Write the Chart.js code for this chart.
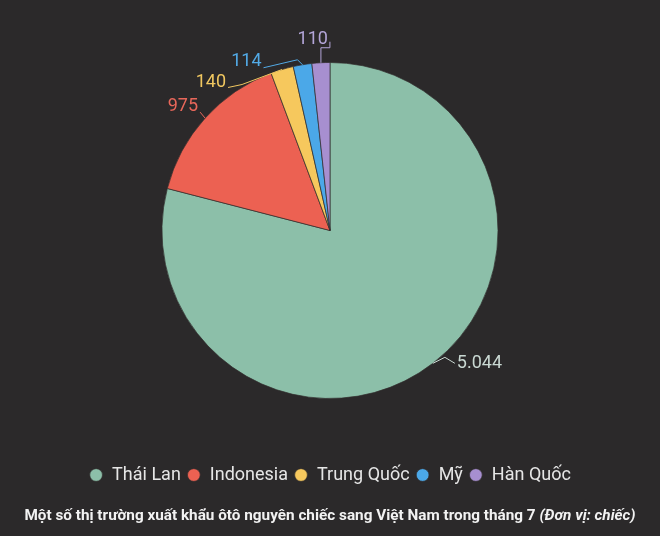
<!DOCTYPE html>
<html>
<head>
    <meta charset="utf-8">
    <title></title>
    <script src="https://cdn.jsdelivr.net/npm/chart.js@4.4.1/dist/chart.umd.min.js"></script>
    <style>
        html, body { margin: 0; padding: 0; background: #2b292a; }
        #holder { width: 660px; height: 536px; position: relative; }
    </style>
</head>

<body>
    <div id="holder">
        <canvas id="chart-area"></canvas>
    </div>

    <script>
		// so lieu thang 7 (don vi: chiec)
		var markets = ['Thái Lan', 'Indonesia', 'Trung Quốc', 'Mỹ', 'Hàn Quốc'];
		var cars = [5044, 975, 140, 114, 110];
		var valueLabels = ['5.044', '975', '140', '114', '110'];

		var sliceColors = ['#8cbfa9', '#ec6152', '#f6c85d', '#4ba8e8', '#a78fd0'];
		var labelColors = ['#c9d8d2', '#e8675a', '#f1c760', '#52aae6', '#b3a5d8'];

		var caption = 'Một số thị trường xuất khẩu ôtô nguyên chiếc sang Việt Nam trong tháng 7 ';
		var captionUnit = '(Đơn vị: chiếc)';

		// leader lines, offsets from the point on the arc
		var leaders = [
			{ path: [[12, -6], [22, 0]], text: [24, 0], align: 'left' },
			{ path: [[-5, -6]], text: [-7, -12], align: 'right' },
			{ path: [[-40, 15], [-54, 18]], text: [-56, 13], align: 'right' },
			{ path: [[-5, -5], [-39, 3]], text: [-41, -3], align: 'right' },
			{ path: [[0, -15], [9, -15], [9, -21]], text: [7, -23], align: 'right' }
		];

		var pieLabels = {
			id: 'pieLabels',
			afterDatasetsDraw: function(chart) {
				var ctx = chart.ctx;
				var meta = chart.getDatasetMeta(0);
				ctx.save();
				meta.data.forEach(function(arc, i) {
					var mid = (arc.startAngle + arc.endAngle) / 2;
					var x0 = arc.x + Math.cos(mid) * arc.outerRadius;
					var y0 = arc.y + Math.sin(mid) * arc.outerRadius;
					var l = leaders[i];
					ctx.strokeStyle = labelColors[i];
					ctx.lineWidth = 1;
					ctx.beginPath();
					ctx.moveTo(x0, y0);
					l.path.forEach(function(p) { ctx.lineTo(x0 + p[0], y0 + p[1]); });
					ctx.stroke();
					ctx.fillStyle = labelColors[i];
					ctx.font = '18px Roboto';
					ctx.textAlign = l.align;
					ctx.textBaseline = 'middle';
					ctx.fillText(valueLabels[i], x0 + l.text[0], y0 + l.text[1]);
				});
				ctx.restore();
			}
		};

		var captionPlugin = {
			id: 'caption',
			afterDraw: function(chart) {
				var ctx = chart.ctx;
				ctx.save();
				ctx.fillStyle = '#f2f2f2';
				ctx.textBaseline = 'middle';
				ctx.textAlign = 'left';
				var f1 = 'bold 15.3px Roboto';
				var f2 = 'italic bold 15.3px Roboto';
				ctx.font = f1;
				var w1 = ctx.measureText(caption).width;
				ctx.font = f2;
				var w2 = ctx.measureText(captionUnit).width;
				var x = (chart.width - w1 - w2) / 2;
				var y = 516;
				ctx.font = f1;
				ctx.fillText(caption, x, y);
				ctx.font = f2;
				ctx.fillText(captionUnit, x + w1, y);
				ctx.restore();
			}
		};

		var config = {
			type: 'pie',
			data: {
				labels: markets,
				datasets: [{
					data: cars,
					backgroundColor: sliceColors,
					borderColor: 'rgba(50,45,45,0.7)',
					borderWidth: 1
				}]
			},
			options: {
				responsive: true,
				maintainAspectRatio: false,
				animation: false,
				radius: 168,
				layout: { padding: { top: 1, bottom: 42, left: 0, right: 0 } },
				events: [],
				plugins: {
					legend: {
						position: 'bottom',
						labels: {
							usePointStyle: true,
							pointStyle: 'circle',
							boxWidth: 14,
							boxHeight: 9,
							padding: 6,
							color: '#e6e6e6',
							font: { family: 'Roboto', size: 18 }
						}
					},
					tooltip: { enabled: false }
				}
			},
			plugins: [pieLabels, captionPlugin]
		};

		window.onload = function() {
			var ctx = document.getElementById('chart-area').getContext('2d');
			window.myPie = new Chart(ctx, config);
		};
    </script>
</body>
</html>
